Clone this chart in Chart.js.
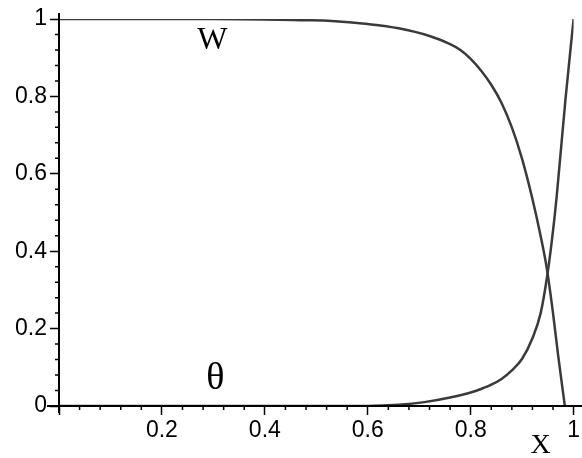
<!DOCTYPE html>
<html>
<head>
<meta charset="utf-8">
<script src="https://cdn.jsdelivr.net/npm/chart.js@4/dist/chart.umd.min.js"></script>
<style>
  html, body { margin: 0; padding: 0; background: #fff; }
  #wrap { width: 582px; height: 458px; }
</style>
</head>
<body>
<div id="wrap"><canvas id="myChart" width="582" height="458"></canvas></div>
<script>
// значения кривых
const xW = [0, 0.1, 0.2, 0.3, 0.4, 0.47, 0.53, 0.6, 0.66, 0.72, 0.76, 0.78, 0.8, 0.82, 0.84, 0.86, 0.88, 0.9, 0.92, 0.935, 0.948, 0.96, 0.97, 0.983];
const wValues = [1, 1, 1, 1, 0.999, 0.997, 0.995, 0.987, 0.976, 0.956, 0.935, 0.92, 0.897, 0.867, 0.83, 0.783, 0.72, 0.638, 0.535, 0.445, 0.355, 0.24, 0.13, 0];

const xTheta = [0, 0.2, 0.4, 0.6, 0.66, 0.71, 0.76, 0.8, 0.82, 0.84, 0.86, 0.88, 0.9, 0.92, 0.936, 0.948, 0.958, 0.967, 0.984, 1];
const thetaValues = [0, 0, 0, 0, 0.003, 0.01, 0.022, 0.035, 0.044, 0.055, 0.07, 0.092, 0.122, 0.175, 0.24, 0.33, 0.43, 0.54, 0.79, 1];

// подписи кривых и оси
const curveLabels = ['W', 'θ'];
const curveLabelPos = [[0.298, 0.943], [0.304, 0.07]];
const axisLabel = 'X';

const toPoints = (xs, ys) => xs.map((x, i) => ({ x: x, y: ys[i] }));

const lineColor = '#3a3a3a';

// малые засечки и подписи
const extras = {
    id: 'extras',
    afterDraw(chart) {
        const ctx = chart.ctx;
        const xs = chart.scales.x;
        const ys = chart.scales.y;
        const x0 = xs.getPixelForValue(0);
        const y0 = ys.getPixelForValue(0);
        ctx.save();
        ctx.strokeStyle = '#000';
        ctx.lineWidth = 1.5;
        ctx.beginPath();
        for (let k = 1; k < 25; k++) {
            if (k % 5 === 0) continue;
            const v = k * 0.04;
            const px = xs.getPixelForValue(v);
            ctx.moveTo(px, y0);
            ctx.lineTo(px, y0 + 4);
            const py = ys.getPixelForValue(v);
            ctx.moveTo(x0, py);
            ctx.lineTo(x0 - 4, py);
        }
        ctx.stroke();

        // оси чуть длиннее области графика
        ctx.lineWidth = 2;
        ctx.beginPath();
        ctx.moveTo(x0 - 12, y0);
        ctx.lineTo(chart.width, y0);
        ctx.moveTo(x0, ys.getPixelForValue(1) - 6);
        ctx.lineTo(x0, y0 + 7);
        ctx.stroke();

        ctx.fillStyle = '#000';
        ctx.textAlign = 'center';
        ctx.textBaseline = 'middle';
        ctx.font = '32px "Liberation Serif", serif';
        ctx.fillText(curveLabels[0], xs.getPixelForValue(curveLabelPos[0][0]), ys.getPixelForValue(curveLabelPos[0][1]));
        ctx.font = '38px "Liberation Serif", serif';
        ctx.fillText(curveLabels[1], xs.getPixelForValue(curveLabelPos[1][0]), ys.getPixelForValue(curveLabelPos[1][1]));
        ctx.font = '28px "Liberation Serif", serif';
        ctx.fillText(axisLabel, xs.getPixelForValue(0.936), y0 + 40);
        ctx.restore();
    }
};

const ctx = document.getElementById('myChart').getContext('2d');
const myChart = new Chart(ctx, {
    type: 'scatter',
    data: {
        datasets: [{
            label: 'w',
            data: toPoints(xW, wValues),
            showLine: true,
            borderColor: lineColor,
            borderWidth: 2.5,
            pointRadius: 0,
            cubicInterpolationMode: 'monotone'
        }, {
            label: 'θ',
            data: toPoints(xTheta, thetaValues),
            showLine: true,
            borderColor: lineColor,
            borderWidth: 2.5,
            pointRadius: 0,
            cubicInterpolationMode: 'monotone'
        }]
    },
    options: {
        responsive: false,
        animation: false,
        layout: { padding: { left: 0, right: 7, top: 19, bottom: 0 } },
        plugins: {
            legend: { display: false },
            tooltip: { enabled: false }
        },
        scales: {
            x: {
                type: 'linear',
                min: 0,
                max: 1,
                afterFit: s => { s.height = 52; },
                border: { display: true, color: '#000', width: 2 },
                grid: { drawOnChartArea: false, drawTicks: true, tickLength: 9, tickColor: '#000', tickWidth: 1.5 },
                ticks: {
                    stepSize: 0.2,
                    padding: 2,
                    color: '#000',
                    font: { family: '"Liberation Sans", Arial, sans-serif', size: 23 },
                    callback: v => v === 0 ? '' : (Math.abs(v - 1) < 1e-9 ? '1' : v.toFixed(1))
                }
            },
            y: {
                min: 0,
                max: 1,
                afterFit: s => { s.width = 59; },
                border: { display: true, color: '#000', width: 2 },
                grid: { drawOnChartArea: false, drawTicks: true, tickLength: 9, tickColor: '#000', tickWidth: 1.5 },
                ticks: {
                    stepSize: 0.2,
                    padding: 3,
                    color: '#000',
                    font: { family: '"Liberation Sans", Arial, sans-serif', size: 23 },
                    callback: v => (Math.abs(v) < 1e-9 ? '0' : (Math.abs(v - 1) < 1e-9 ? '1' : v.toFixed(1)))
                }
            }
        }
    },
    plugins: [extras]
});
</script>
</body>
</html>
